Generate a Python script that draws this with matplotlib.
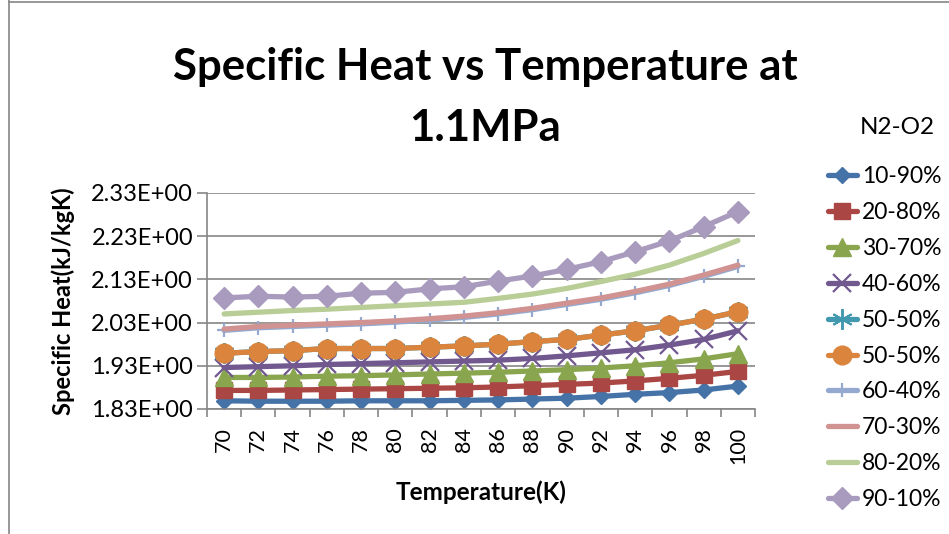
import numpy as np
import matplotlib.pyplot as plt
from matplotlib.lines import Line2D
from matplotlib.ticker import FixedLocator, FuncFormatter

plt.rcParams['font.family'] = ['Lato', 'DejaVu Sans']

temps = [70, 72, 74, 76, 78, 80, 82, 84, 86, 88, 90, 92, 94, 96, 98, 100]

cp_10_90 = [1.849, 1.848, 1.848, 1.848, 1.849, 1.849, 1.849, 1.850,
            1.851, 1.853, 1.855, 1.859, 1.864, 1.868, 1.874, 1.883]
cp_20_80 = [1.873, 1.873, 1.874, 1.875, 1.876, 1.877, 1.878, 1.879,
            1.881, 1.884, 1.887, 1.890, 1.895, 1.901, 1.908, 1.917]
cp_30_70 = [1.903, 1.903, 1.904, 1.906, 1.907, 1.909, 1.911, 1.913,
            1.915, 1.918, 1.921, 1.925, 1.930, 1.937, 1.946, 1.958]
cp_40_60 = [1.926, 1.928, 1.930, 1.933, 1.935, 1.937, 1.939, 1.941,
            1.943, 1.947, 1.953, 1.960, 1.967, 1.978, 1.991, 2.011]
cp_50_50a = [1.959, 1.963, 1.965, 1.970, 1.970, 1.970, 1.973, 1.976,
             1.980, 1.986, 1.991, 2.001, 2.011, 2.024, 2.038, 2.055]
cp_50_50b = [1.959, 1.963, 1.965, 1.970, 1.970, 1.970, 1.973, 1.976,
             1.980, 1.986, 1.991, 2.001, 2.011, 2.024, 2.038, 2.055]
cp_60_40 = [2.012, 2.018, 2.021, 2.024, 2.027, 2.031, 2.036, 2.042,
            2.050, 2.060, 2.072, 2.084, 2.099, 2.116, 2.137, 2.160]
cp_70_30 = [2.015, 2.021, 2.024, 2.027, 2.030, 2.034, 2.039, 2.045,
            2.053, 2.063, 2.075, 2.087, 2.102, 2.119, 2.140, 2.163]
cp_80_20 = [2.050, 2.054, 2.058, 2.061, 2.065, 2.069, 2.073, 2.077,
            2.086, 2.096, 2.109, 2.125, 2.142, 2.163, 2.190, 2.220]
cp_90_10 = [2.087, 2.091, 2.089, 2.091, 2.098, 2.100, 2.108, 2.113,
            2.126, 2.138, 2.153, 2.171, 2.194, 2.219, 2.252, 2.287]

labels = ['10-90%', '20-80%', '30-70%', '40-60%', '50-50%',
          '50-50%', '60-40%', '70-30%', '80-20%', '90-10%']
series = [cp_10_90, cp_20_80, cp_30_70, cp_40_60, cp_50_50a,
          cp_50_50b, cp_60_40, cp_70_30, cp_80_20, cp_90_10]
yticks = [1.83, 1.93, 2.03, 2.13, 2.23, 2.33]

asterisk = (6, 2, 0)
styles = [
    dict(color='#4572a7', marker='D', ms=8.5),
    dict(color='#aa4643', marker='s', ms=12),
    dict(color='#89a54e', marker='^', ms=13),
    dict(color='#71588f', marker='x', ms=13, mew=1.6),
    dict(color='#4198af', marker=asterisk, ms=15, mew=1.4),
    dict(color='#db843d', marker='o', ms=13.5),
    dict(color='#93a9cf', marker='+', ms=10, mew=1.6),
    dict(color='#d19392', marker=None),
    dict(color='#b9cd96', marker=None),
    dict(color='#a99bbd', marker='D', ms=11),
]

fig = plt.figure(figsize=(9.49, 5.34), dpi=100)
ax = fig.add_axes([0.2181, 0.2341, 0.5775, 0.4045])

x = np.arange(len(temps))
handles = []
for vals, lab, st in zip(series, labels, styles):
    st = dict(st)
    col = st.pop('color')
    h, = ax.plot(x, vals, color=col, lw=3.8, solid_capstyle='round',
                 markerfacecolor=col, markeredgecolor=col, label=lab, **st)
    handles.append(h)

ax.set_xlim(-0.5, len(temps) - 0.5)
ax.set_ylim(1.83, 2.33)

ax.set_xticks(x)
ax.set_xticklabels([str(t) for t in temps], rotation=90, fontsize=15.5)
ax.xaxis.set_minor_locator(FixedLocator(np.arange(-0.5, len(temps), 1.0)))
ax.tick_params(axis='x', which='major', length=0, pad=13)
ax.tick_params(axis='x', which='minor', length=6, width=1.2, color='#868686')

ax.set_yticks(yticks)
ax.yaxis.set_major_formatter(FuncFormatter(lambda v, p: '%.2fE+00' % v))
ax.tick_params(axis='y', length=7, width=1.2, color='#868686',
               labelsize=17, pad=3)

ax.grid(axis='y', color='#868686', lw=1.2)
ax.set_axisbelow(True)
for side in ('top', 'right'):
    ax.spines[side].set_visible(False)
for side in ('left', 'bottom'):
    ax.spines[side].set_color('#868686')
    ax.spines[side].set_linewidth(1.2)

ax.set_ylabel('Specific Heat(kJ/kgK)', fontsize=17, fontweight='bold',
              labelpad=12)
ax.set_xlabel('Temperature(K)', fontsize=17.5, fontweight='bold', labelpad=12)

fig.text(0.511, 0.875, 'Specific Heat vs Temperature at', fontsize=31.5,
         fontweight='bold', ha='center', va='center')
fig.text(0.511, 0.760, '1.1MPa', fontsize=31.5, fontweight='bold',
         ha='center', va='center')

# legend title placed on its own, entries below it
fig.text(0.946, 0.762, 'N2-O2', fontsize=17.5, ha='center', va='center')
leg = fig.legend(handles=handles, loc='upper left',
                 bbox_to_anchor=(0.872, 0.689), frameon=False, fontsize=16.5,
                 handlelength=1.3, handletextpad=0.2, labelspacing=0.65,
                 borderaxespad=0, borderpad=0)

# outer chart frame
fig.add_artist(Line2D([0.0095, 0.0095], [0.0, 1.0], color='#868686', lw=1.2))
fig.add_artist(Line2D([0.0095, 1.0], [0.997, 0.997], color='#868686', lw=1.2))

fig.savefig('out.png', dpi=100)
